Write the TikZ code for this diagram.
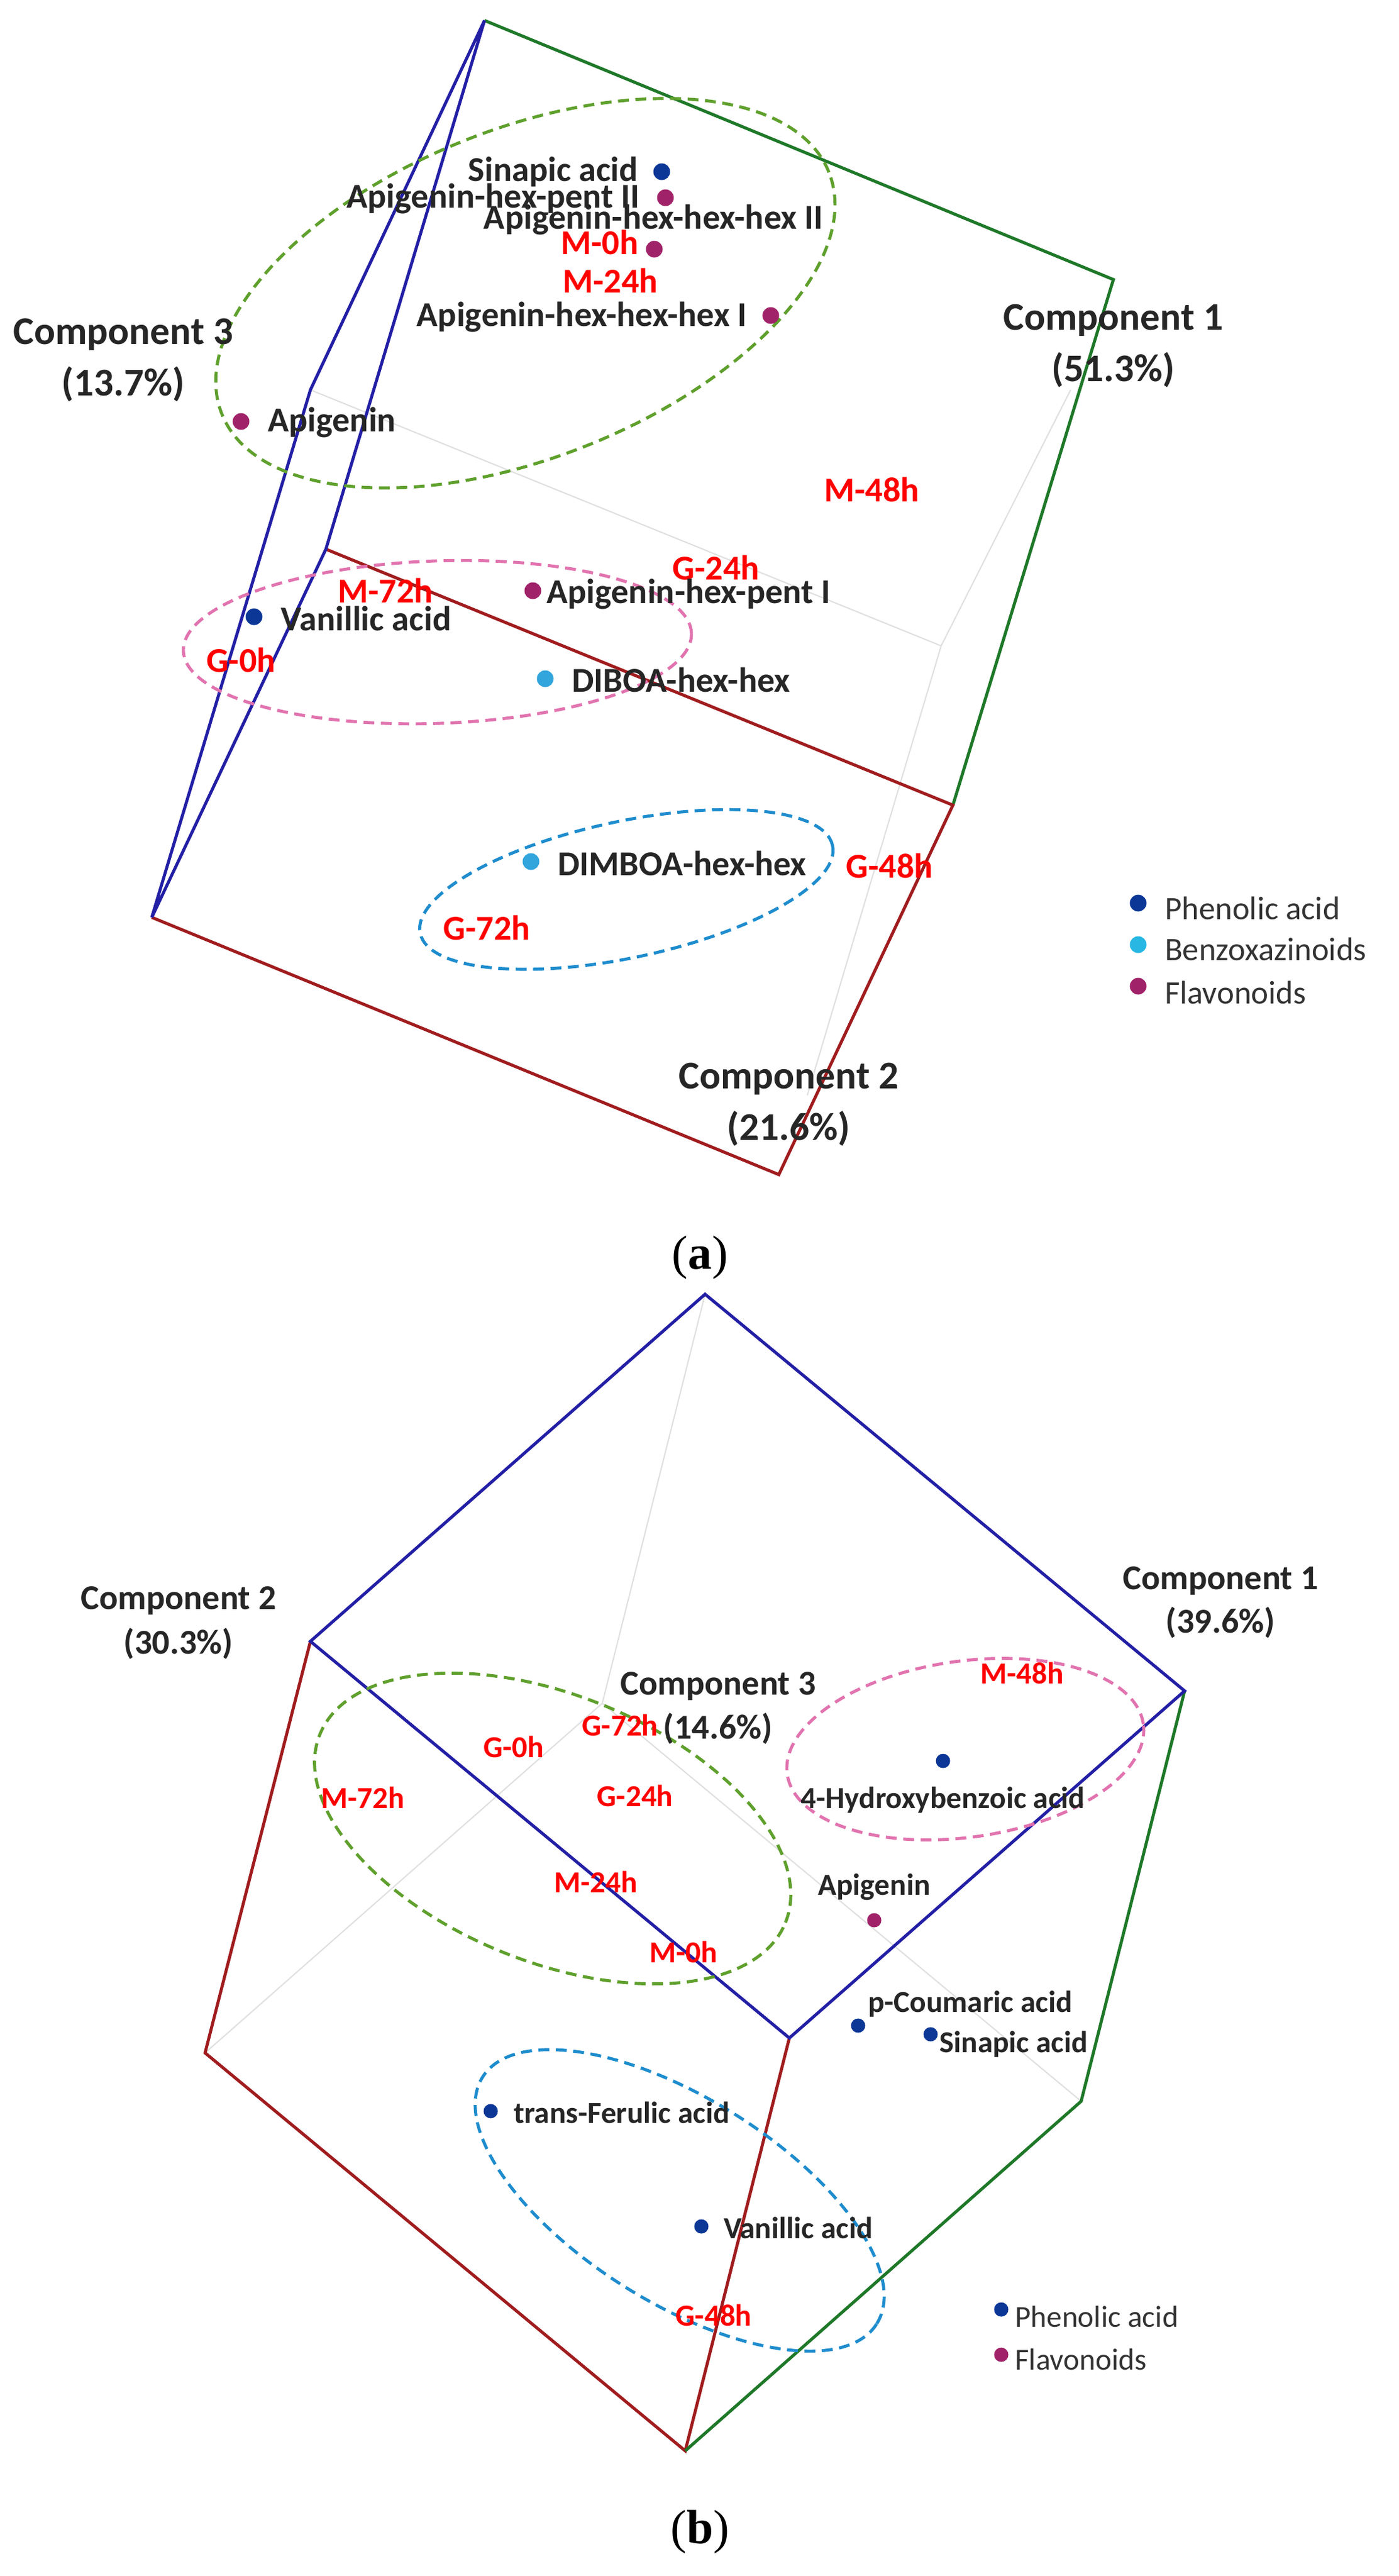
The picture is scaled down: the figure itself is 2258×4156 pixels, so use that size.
\documentclass[tikz,border=0pt]{standalone}
\usepackage{fontspec}
\setmainfont{Carlito}
\newfontfamily\capfont{Liberation Serif}
\begin{document}
\begin{tikzpicture}[x=0.01cm,y=0.01cm,
  ax/.style={line width=1.4pt},
  grayln/.style={draw=black!12,line width=0.6pt},
  ell/.style={dashed,line width=1.4pt,dash pattern=on 5pt off 3pt},
  comp/.style={font=\fontsize{18}{20}\selectfont\bfseries,text=black!85},
  lab/.style={font=\fontsize{16}{18}\selectfont\bfseries,text=black!85,inner sep=1pt},
  rlab/.style={font=\fontsize{16}{18}\selectfont\bfseries,text=red,inner sep=1pt},
  leg/.style={font=\fontsize{15}{17}\selectfont,text=black!80,anchor=west,inner sep=1pt},
  captxt/.style={font=\capfont\fontsize{22}{24}\selectfont},
  dot/.style={circle,inner sep=0pt,minimum size=0.27cm},
  phen/.style={dot,fill=phencol},
  benz/.style={dot,fill=benzcol},
  flav/.style={dot,fill=flavcol}]
\definecolor{bluel}{RGB}{35,31,165}
\definecolor{greenl}{RGB}{30,120,40}
\definecolor{redl}{RGB}{160,28,30}
\definecolor{phencol}{RGB}{12,55,150}
\definecolor{benzcol}{RGB}{50,165,220}
\definecolor{flavcol}{RGB}{160,35,105}
\definecolor{egreen}{RGB}{95,160,45}
\definecolor{epink}{RGB}{225,115,175}
\definecolor{eblue}{RGB}{30,140,205}
\useasboundingbox (0,0) rectangle (2258,-4156);
% ---------- panel (a) ----------
\coordinate (aT) at (782,-33);
\coordinate (aR) at (1797,-451);
\coordinate (aC) at (1538,-1299);
\coordinate (aB) at (1257,-1895);
\coordinate (aL) at (245,-1480);
\coordinate (aP1) at (501,-629);
\coordinate (aP2) at (526,-886);
\coordinate (aG1) at (1519,-1042);
\coordinate (aG2) at (1728,-629);
\coordinate (aG3) at (1303,-1767);
\draw[grayln] (aP1) -- (aG1) -- (aG2);
\draw[grayln] (aG1) -- (aG3);
\draw[ax,draw=greenl] (aT) -- (aR) -- (aC);
\draw[ax,draw=redl] (aP2) -- (aC) -- (aB) -- (aL);
\draw[ax,draw=bluel] (aT) -- (aP1) -- (aL) -- (aP2) -- cycle;
\draw[ell,draw=egreen] (848,-473) ellipse[x radius=5.27cm,y radius=2.65cm,rotate=21.7];
\draw[ell,draw=epink] (706,-1036) ellipse[x radius=4.1cm,y radius=1.31cm,rotate=2];
\draw[ell,draw=eblue] (1011,-1435) ellipse[x radius=3.4cm,y radius=1.1cm,rotate=12];
\node[phen] (aSd) at (1068,-277) {};
\node[lab,anchor=east] (aSt) at (1034,-277) {Sinapic acid};
\node[flav] (aHP2d) at (1074,-319) {};
\node[lab,anchor=east] (aHP2t) at (1037,-321) {Apigenin-hex-pent II};
\node[lab] (aHH2t) at (1055,-355) {Apigenin-hex-hex-hex II};
\node[flav] (aM0d) at (1056,-402) {};
\node[rlab] (aM0) at (968,-391) {M-0h};
\node[rlab] (aM24) at (985,-453) {M-24h};
\node[flav] (aHH1d) at (1244,-509) {};
\node[lab,anchor=east] (aHH1t) at (1210,-512) {Apigenin-hex-hex-hex I};
\node[comp] (aC3) at (199,-540) {Component 3};
\node[comp] (aC3p) at (199,-620) {(13.7\%)};
\node[comp] (aC1) at (1797,-517) {Component 1};
\node[comp] (aC1p) at (1797,-597) {(51.3\%)};
\node[flav] (aApd) at (389,-680) {};
\node[lab,anchor=west] (aApt) at (428,-682) {Apigenin};
\node[rlab] (aM48) at (1407,-790) {M-48h};
\node[rlab] (aG24) at (1156,-916) {G-24h};
\node[rlab] (aM72) at (622,-953) {M-72h};
\node[flav] (aHP1d) at (860,-953) {};
\node[lab,anchor=west] (aHP1t) at (878,-959) {Apigenin-hex-pent I};
\node[phen] (aVd) at (410,-995) {};
\node[lab,anchor=west] (aVt) at (449,-998) {Vanillic acid};
\node[rlab] (aG0) at (389,-1065) {G-0h};
\node[benz] (aDBd) at (880,-1095) {};
\node[lab,anchor=west] (aDBt) at (919,-1097) {DIBOA-hex-hex};
\node[benz] (aDMd) at (857,-1390) {};
\node[lab,anchor=west] (aDMt) at (896,-1393) {DIMBOA-hex-hex};
\node[rlab] (aG48) at (1436,-1397) {G-48h};
\node[rlab] (aG72) at (786,-1497) {G-72h};
\node[comp] (aC2) at (1273,-1741) {Component 2};
\node[comp] (aC2p) at (1273,-1821) {(21.6\%)};
\node[phen] (aL1d) at (1837,-1457) {};
\node[leg] (aL1t) at (1876,-1465) {Phenolic acid};
\node[dot,fill=benzcol!80!cyan] (aL2d) at (1837,-1524) {};
\node[leg] (aL2t) at (1876,-1531) {Benzoxazinoids};
\node[flav] (aL3d) at (1837,-1591) {};
\node[leg] (aL3t) at (1876,-1601) {Flavonoids};
\node[captxt] (capa) at (1130,-2029) {(\textbf{a})};
% ---------- panel (b) ----------
\coordinate (bT) at (1138,-2088);
\coordinate (bUL) at (501,-2648);
\coordinate (bUR) at (1912,-2728);
\coordinate (bC) at (1274,-3288);
\coordinate (bLL) at (331,-3312);
\coordinate (bB) at (1106,-3954);
\coordinate (bGR) at (1745,-3390);
\coordinate (bI) at (972,-2748);
\draw[grayln] (bT) -- (bI) -- (bLL);
\draw[grayln] (bI) -- (bGR);
\draw[ax,draw=redl] (bUL) -- (bLL) -- (bB) -- (bC);
\draw[ax,draw=greenl] (bUR) -- (bGR) -- (bB);
\draw[ax,draw=bluel] (bT) -- (bUL) -- (bC) -- (bUR) -- cycle;
\draw[ell,draw=egreen] (892,-2950) ellipse[x radius=4.05cm,y radius=2.15cm,rotate=-22];
\draw[ell,draw=epink] (1558,-2822) ellipse[x radius=2.9cm,y radius=1.42cm,rotate=8];
\draw[ell,draw=eblue] (1097,-3550) ellipse[x radius=3.75cm,y radius=1.65cm,rotate=-32];
\tikzset{bcomp/.style={comp,font=\fontsize{16}{18}\selectfont\bfseries},
  brlab/.style={rlab,font=\fontsize{14}{16}\selectfont\bfseries},
  blab/.style={lab,font=\fontsize{14}{16}\selectfont\bfseries},
  bdot/.style={minimum size=0.23cm}}
\node[bcomp] (bC2) at (288,-2582) {Component 2};
\node[bcomp] (bC2p) at (288,-2652) {(30.3\%)};
\node[bcomp] (bC1) at (1970,-2550) {Component 1};
\node[bcomp] (bC1p) at (1970,-2618) {(39.6\%)};
\node[bcomp] (bC3) at (1159,-2720) {Component 3};
\node[bcomp] (bC3p) at (1159,-2789) {(14.6\%)};
\node[brlab] (bG72) at (1001,-2783) {G-72h};
\node[brlab] (bG0) at (829,-2818) {G-0h};
\node[brlab] (bM72) at (586,-2900) {M-72h};
\node[brlab] (bG24) at (1025,-2897) {G-24h};
\node[brlab] (bM24) at (962,-3036) {M-24h};
\node[brlab] (bM0) at (1103,-3149) {M-0h};
\node[brlab] (bM48) at (1650,-2699) {M-48h};
\node[phen,bdot] (bHBd) at (1522,-2841) {};
\node[blab] (bHBt) at (1522,-2904) {4-Hydroxybenzoic acid};
\node[blab] (bApt) at (1411,-3044) {Apigenin};
\node[flav,bdot] (bApd) at (1411,-3098) {};
\node[blab,anchor=west] (bPCt) at (1397,-3233) {p-Coumaric acid};
\node[phen,bdot] (bPCd) at (1385,-3268) {};
\node[phen,bdot] (bSd) at (1502,-3282) {};
\node[blab,anchor=west] (bSt) at (1512,-3298) {Sinapic acid};
\node[phen,bdot] (bFd) at (792,-3406) {};
\node[blab,anchor=west] (bFt) at (825,-3408) {trans-Ferulic acid};
\node[phen,bdot] (bVd) at (1132,-3592) {};
\node[blab,anchor=west] (bVt) at (1164,-3594) {Vanillic acid};
\node[brlab] (bG48) at (1152,-3735) {G-48h};
\node[phen,bdot] (bL1d) at (1616,-3726) {};
\node[leg,font=\fontsize{14}{16}\selectfont] (bL1t) at (1634,-3738) {Phenolic acid};
\node[flav,bdot] (bL2d) at (1616,-3799) {};
\node[leg,font=\fontsize{14}{16}\selectfont] (bL2t) at (1634,-3807) {Flavonoids};
\node[captxt] (capb) at (1130,-4085) {(\textbf{b})};
\end{tikzpicture}
\end{document}
